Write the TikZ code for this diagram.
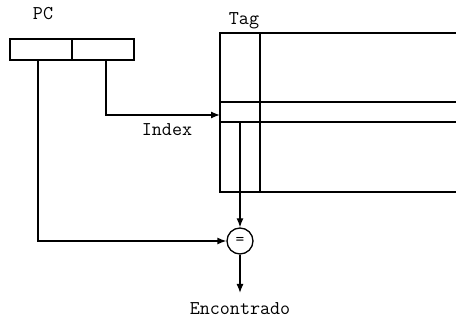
\documentclass[tikz,border=0pt]{standalone}
\usetikzlibrary{arrows.meta}
\begin{document}
\begin{tikzpicture}[x=1pt,y=-1pt,
  ln/.style={line width=1.3pt},
  arr/.style={ln,-{Latex[length=9pt,width=7pt]}},
  lbl/.style={font=\ttfamily\fontsize{19.5}{22}\selectfont,inner sep=0pt}]
\useasboundingbox (0,0) rectangle (456,323);
% PC register
\node[lbl] (pclbl) at (43,14) {PC};
\draw[ln] (10,39) rectangle (134,60);
\draw[ln] (72,39) -- (72,60);
\coordinate (pcl) at (38,60);
\coordinate (pcr) at (106,60);
% table
\node[lbl] (taglbl) at (244,21) {Tag};
\draw[ln] (456,33) -- (220,33) -- (220,192) -- (456,192);
\draw[ln] (260,33) -- (260,192);
\draw[ln] (220,102) -- (456,102);
\draw[ln] (220,122) -- (456,122);
\coordinate (row) at (220,115);
\coordinate (tagout) at (240,122);
% comparator
\node[draw,ln,circle,minimum size=26pt,inner sep=0pt,font=\ttfamily\fontsize{17}{18}\selectfont] (cmp) at (240,241) {=};
\node[lbl] (enc) at (240,309) {Encontrado};
% connectors
\draw[arr] (pcr) |- (row);
\node[lbl] (idx) at (167,130) {Index};
\draw[arr] (pcl) |- (cmp.west);
\draw[arr] (tagout) -- (cmp.north);
\draw[arr] (cmp.south) -- (240,293);
\end{tikzpicture}
\end{document}
